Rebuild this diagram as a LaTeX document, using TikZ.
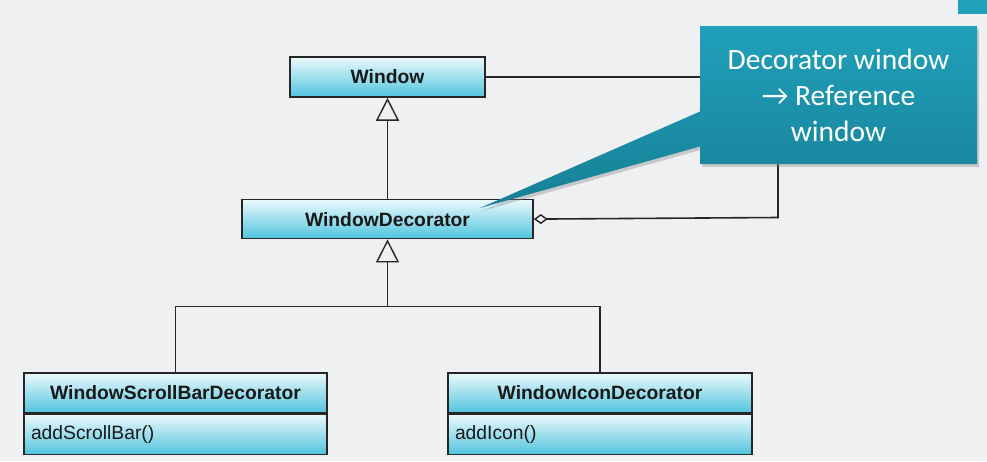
\documentclass[tikz,border=0pt]{standalone}
\usepackage{fontspec}
\setmainfont{Liberation Sans}
\newfontfamily\noteFont{Carlito}
\usepackage{tikz}
\usetikzlibrary{shapes.callouts, arrows.meta, positioning, calc, shadows}
\definecolor{bgColor}{RGB}{239, 240, 242}
\definecolor{boxTop}{RGB}{236, 249, 252}
\definecolor{boxBottom}{RGB}{80, 196, 222}
\definecolor{noteTop}{RGB}{33, 160, 186}
\definecolor{noteBottom}{RGB}{22, 128, 150}
\tikzstyle{line} = [line width=1.6pt, draw=black!85]
\tikzstyle{inherit} = [line, -{Triangle[open, length=23pt, width=23pt, line width=1.4pt]}]
\tikzstyle{aggregate} = [line, -{Diamond[open, length=14pt, width=10pt, line width=1.4pt]}]
\tikzstyle{classbox} = [rectangle, draw=black!85, line width=1.6pt, top color=boxTop, bottom color=boxBottom, text=black!90, font=\fontsize{19.3}{22}\selectfont]
\tikzstyle{namebox} = [classbox, minimum height=40pt, font=\fontsize{19.3}{22}\selectfont\bfseries]
\tikzstyle{methodbox} = [classbox, minimum height=40pt, inner xsep=7pt, align=left]
\tikzstyle{note} = [rectangle callout, top color=noteTop, bottom color=noteBottom, text=white, align=center, inner sep=0pt, minimum width=277pt, minimum height=138pt, callout pointer width=35pt, drop shadow={opacity=0.35, shadow xshift=2pt, shadow yshift=-3pt}, font=\noteFont\fontsize{29.5}{36}\selectfont]

\begin{document}
\begin{tikzpicture}[x=1pt, y=-1pt]
\fill [bgColor] (0,0) rectangle (987,461);
\useasboundingbox (0,0) rectangle (987,461);
\fill [noteTop] (958,0) rectangle (987,14);

\node (window) [namebox, minimum width=195pt] at (387.5,77) {Window};
\node (decorator) [namebox, minimum width=291pt, minimum height=39pt, anchor=north, yshift=-101pt] at(window.south) {WindowDecorator};

\node (scrollName) [namebox, minimum width=303pt, anchor=north] at (175.5,372) {WindowScrollBarDecorator};
\node (scrollOps) [methodbox, text width=289pt, anchor=north] at(scrollName.south) {addScrollBar()};
\node (iconName) [namebox, minimum width=304pt, anchor=north] at (600,372) {WindowIconDecorator};
\node (iconOps) [methodbox, text width=290pt, anchor=north] at(iconName.south) {addIcon()};

\coordinate (split) at ($(decorator.south) + (0,67)$);
\coordinate (aggCorner) at (778, 217.5);

\draw [inherit] (decorator.north) -- (window.south);
\draw [inherit] (split) -- (decorator.south);
\draw [line] (scrollName.north) |- (split) -| (iconName.north);
\draw [aggregate] (window.east) -| (aggCorner) -- (decorator.east);

\node (remark) [note, callout absolute pointer={(480,208)}] at (838.5,95) {Decorator window\\→ Reference\\window};

\end{tikzpicture}
\end{document}
